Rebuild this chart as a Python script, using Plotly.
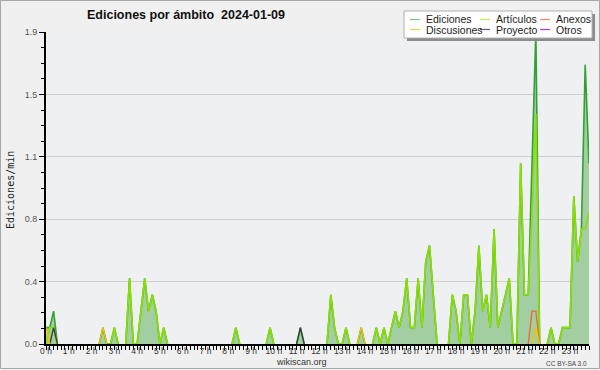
import plotly.graph_objects as go

N = 144
hours = list(range(24))
hour_labels = [f"{h} h" for h in hours]
y_tickvals = [0, 0.38, 0.76, 1.14, 1.52, 1.9]
y_ticktext = ["0.0", "0.4", "0.8", "1.1", "1.5", "1.9"]

def series(d):
    v = [0.0] * N
    for k, val in d.items():
        v[k] = val
    return v

ediciones = series({0: 0.1, 1: 0.1, 2: 0.2, 15: 0.1, 18: 0.1, 22: 0.4,
    25: 0.2, 26: 0.4, 27: 0.2, 28: 0.3, 29: 0.2, 31: 0.1, 50: 0.1, 59: 0.1, 67: 0.1,
    75: 0.3, 76: 0.1, 79: 0.1, 83: 0.1, 87: 0.1, 89: 0.1,
    91: 0.1, 92: 0.2, 93: 0.1, 94: 0.2, 95: 0.4, 96: 0.1, 97: 0.1, 98: 0.4, 99: 0.1,
    100: 0.5, 101: 0.6, 102: 0.3, 107: 0.3, 108: 0.2, 110: 0.3, 111: 0.3,
    113: 0.2, 114: 0.6, 115: 0.2, 116: 0.3, 117: 0.1, 118: 0.7, 119: 0.1,
    120: 0.2, 121: 0.3, 122: 0.4, 125: 1.1, 126: 0.3, 127: 0.3, 128: 1.1, 129: 1.9,
    133: 0.1, 136: 0.1, 137: 0.1, 138: 0.1, 139: 0.9, 140: 0.5, 141: 0.7, 142: 1.7, 143: 1.1})
articulos = series({1: 0.1, 2: 0.1, 18: 0.1, 22: 0.4,
    25: 0.2, 26: 0.4, 27: 0.2, 28: 0.3, 29: 0.2, 31: 0.1, 50: 0.1, 59: 0.1,
    75: 0.3, 76: 0.1, 79: 0.1, 87: 0.1, 89: 0.1,
    91: 0.1, 92: 0.2, 93: 0.1, 94: 0.2, 95: 0.4, 96: 0.1, 97: 0.1, 98: 0.4, 99: 0.1,
    100: 0.5, 101: 0.6, 102: 0.3, 107: 0.3, 108: 0.2, 110: 0.3, 111: 0.3,
    113: 0.2, 114: 0.6, 115: 0.2, 116: 0.3, 117: 0.1, 118: 0.7, 119: 0.1,
    120: 0.2, 121: 0.3, 122: 0.4, 125: 1.1, 126: 0.3, 127: 0.3, 128: 0.8, 129: 1.4,
    133: 0.1, 136: 0.1, 137: 0.1, 138: 0.1, 139: 0.9, 140: 0.5, 141: 0.7, 142: 0.7, 143: 0.8})
anexos = series({128: 0.2, 129: 0.2})
discusiones = series({0: 0.1, 15: 0.1, 83: 0.1, 129: 0.1})
proyecto = series({2: 0.1, 67: 0.1})
otros = series({})

names = ["Ediciones", "Artículos", "Anexos", "Discusiones", "Proyecto", "Otros"]
values = [ediciones, articulos, anexos, discusiones, proyecto, otros]
colors = ["#33a033", "#8be000", "#ee6a2a", "#f2c200", "#3a3a3a", "#9a40ee"]
legend_colors = ["#7cc87c", "#b8ee60", "#f08a5a", "#f5d050", "#606060", "#9a40ee"]
draw_order = [0, 1, 4, 2, 3, 5]

x = list(range(N))
FONT = "Liberation Sans, Arial, sans-serif"

def visible(v):
    out = []
    for i, val in enumerate(v):
        prev = v[i - 1] if i > 0 else 0
        nxt = v[i + 1] if i < len(v) - 1 else 0
        out.append(None if (val == 0 and prev == 0 and nxt == 0) else val)
    return out

fig = go.Figure()
fig.add_trace(go.Scatter(x=x, y=ediciones, mode="none", fill="tozeroy",
                         fillcolor="#a2cea2", showlegend=False, hoverinfo="skip"))
for k in draw_order:
    fig.add_trace(go.Scatter(x=x, y=visible(values[k]), mode="lines", name=names[k],
                             line=dict(color=colors[k], width=1.6 if k < 2 else 1.3),
                             connectgaps=False, showlegend=False))

L, R, T, B = 46, 589, 32, 344
def px(v):
    return (v - L) / (R - L)
def py(v):
    return (B - v) / (B - T)

shapes = []
annotations = []
shapes.append(dict(type="rect", xref="paper", yref="paper", x0=px(0.5), x1=px(599.5),
                   y0=py(0.5), y1=py(368.5), line=dict(color="#a8a8a8", width=1), layer="below"))
shapes.append(dict(type="rect", xref="paper", yref="paper", x0=px(407), x1=px(595),
                   y0=py(14), y1=py(41), line=dict(width=0), fillcolor="#8c8c8c", layer="above"))
shapes.append(dict(type="rect", xref="paper", yref="paper", x0=px(404), x1=px(592),
                   y0=py(11), y1=py(38), line=dict(color="#b0b0b0", width=1),
                   fillcolor="white", layer="above"))
col_x = [410, 480, 540]
row_y = [19.5, 29.5]
for idx, name in enumerate(names):
    c, r = idx % 3, idx // 3
    x0 = col_x[c]
    yy = row_y[r]
    shapes.append(dict(type="line", xref="paper", yref="paper", x0=px(x0), x1=px(x0 + 10),
                       y0=py(yy), y1=py(yy), line=dict(color=legend_colors[idx], width=1.2),
                       layer="above"))
    annotations.append(dict(text=name, xref="paper", yref="paper", x=px(x0 + 14), y=py(yy),
                            xanchor="left", yanchor="middle", showarrow=False,
                            font=dict(family=FONT, size=10.5, color="#222")))

annotations.append(dict(text="<b>Ediciones por ámbito  2024-01-09</b>", xref="paper", yref="paper",
                        x=px(85), y=py(15), xanchor="left", yanchor="middle", showarrow=False,
                        font=dict(family=FONT, size=12.5, color="#111")))
annotations.append(dict(text="Ediciones/min", xref="paper", yref="paper", x=px(10), y=py(190),
                        xanchor="center", yanchor="middle", textangle=-90, showarrow=False,
                        font=dict(family="DejaVu Sans Mono, monospace", size=10, color="#222")))
annotations.append(dict(text="wikiscan.org", xref="paper", yref="paper", x=px(301), y=py(362),
                        xanchor="center", yanchor="middle", showarrow=False,
                        font=dict(family=FONT, size=9, color="#333")))
annotations.append(dict(text="CC BY-SA 3.0", xref="paper", yref="paper", x=px(589), y=py(363),
                        xanchor="right", yanchor="middle", showarrow=False,
                        font=dict(family=FONT, size=6.5, color="#444")))

fig.update_layout(
    width=600, height=370, autosize=False,
    margin=dict(l=L, r=600 - R, t=T, b=370 - B, pad=0, autoexpand=False),
    paper_bgcolor="#f0f0f0", plot_bgcolor="#eff0f2",
    showlegend=False,
    shapes=shapes, annotations=annotations,
    xaxis=dict(range=[0, N - 1], tickmode="array", tickvals=[h * 6 for h in hours],
               ticktext=hour_labels, ticks="outside", ticklen=4, tickcolor="black",
               tickwidth=1, showgrid=False, zeroline=False, showline=True,
               linecolor="black", linewidth=2, automargin=False, ticklabelstandoff=-6,
               tickfont=dict(family=FONT, size=8.5, color="#333"),
               minor=dict(tickmode="linear", tick0=0, dtick=1, ticks="outside",
                          ticklen=4, tickcolor="black", tickwidth=1, showgrid=False)),
    yaxis=dict(range=[0, 1.9], tickmode="array", tickvals=y_tickvals, ticktext=y_ticktext,
               ticks="outside", ticklen=5, tickcolor="black", tickwidth=1,
               showgrid=True, gridcolor="#cfcfcf", gridwidth=1, zeroline=False,
               showline=True, linecolor="black", linewidth=2, automargin=False,
               tickfont=dict(family=FONT, size=9, color="#555"),
               minor=dict(tickmode="linear", tick0=0, dtick=0.095, ticks="outside",
                          ticklen=3, tickcolor="black", tickwidth=1, showgrid=False)),
)

fig.write_html(
    "out.html",
    config={"displayModeBar": False, "staticPlot": True},
    post_script=("document.documentElement.style.margin='0';"
                 "document.documentElement.style.overflow='hidden';"
                 "document.body.style.margin='0';"
                 "document.body.style.overflow='hidden';"
                 "document.body.style.height='370px';"
                 "document.body.style.background='#f0f0f0';"),
)
